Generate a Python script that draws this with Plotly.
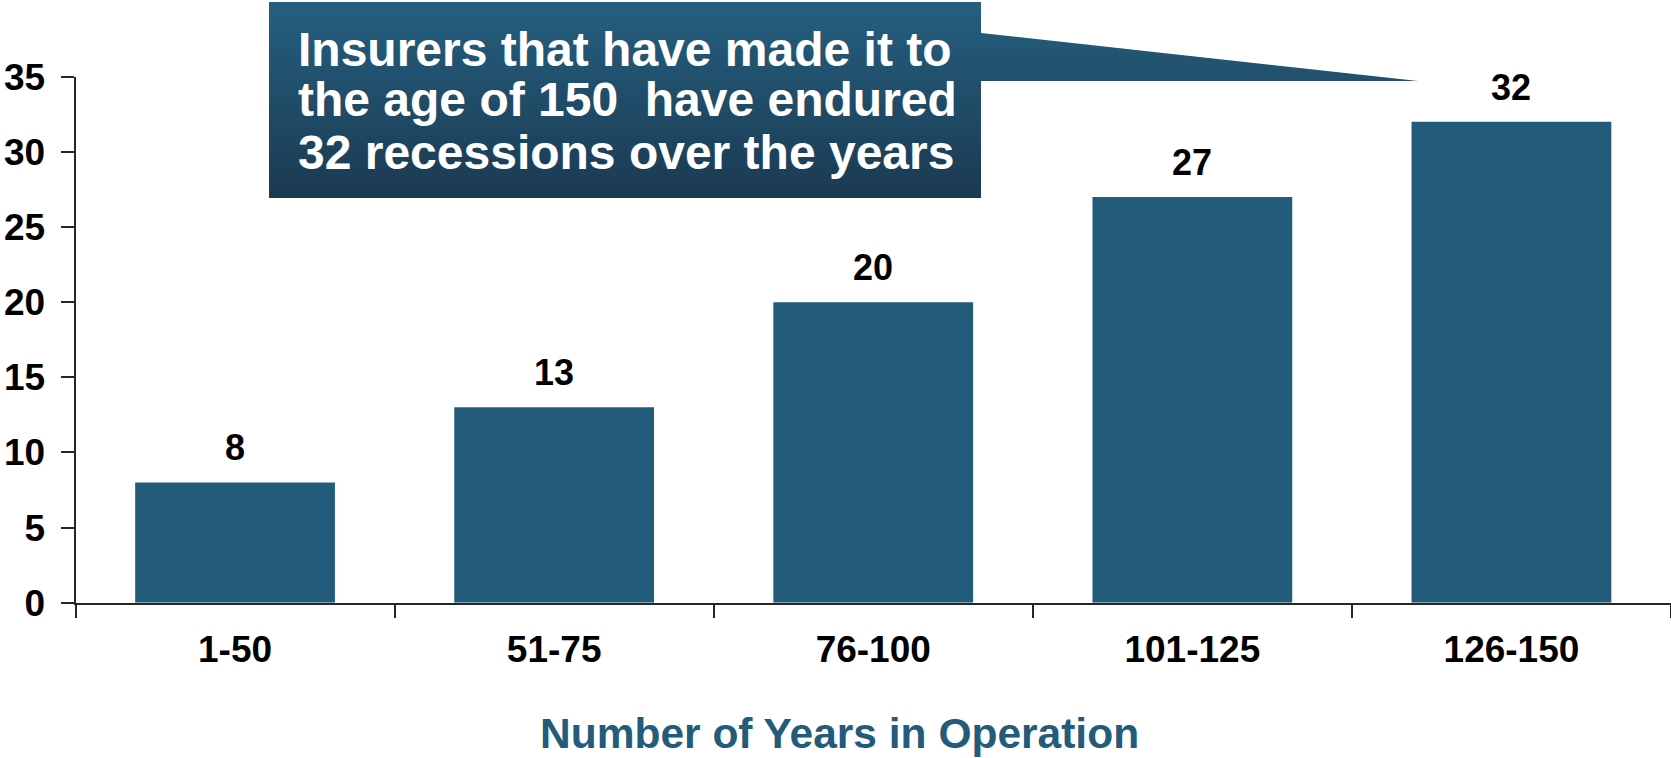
import plotly.graph_objects as go

# Recessions endured by insurers, grouped by how long they have operated
categories = ["1-50", "51-75", "76-100", "101-125", "126-150"]
recessions = [8, 13, 20, 27, 32]
y_ticks = [0, 5, 10, 15, 20, 25, 30, 35]

callout_lines = [
    "Insurers that have made it to",
    "the age of 150\u00a0 have endured",
    "32 recessions over the years",
]
x_title = "Number of Years in Operation"

W, H = 1671, 758
BAR_COLOR = "#235b7a"
AXIS_COLOR = "#262626"
FONT = "Liberation Sans, Arial, Helvetica, sans-serif"

# Plot area in pixels (the figure uses zero margins and explicit domains)
PX_LEFT, PX_RIGHT = 75.5, 1671.0
PX_TOP, PX_BOTTOM = 76.7, 602.7

fig = go.Figure()

fig.add_trace(go.Bar(
    x=categories,
    y=recessions,
    marker=dict(color=BAR_COLOR, line=dict(width=0)),
    hoverinfo="skip",
    xaxis="x",
    yaxis="y",
))

# Speech-bubble callout drawn on a full-canvas pixel overlay
bubble_x = [269, 981, 981, 1418, 981, 981, 269, 269]
bubble_y = [2, 2, 33, 81, 81, 198, 198, 2]
fig.add_trace(go.Scatter(
    x=bubble_x,
    y=bubble_y,
    xaxis="x2",
    yaxis="y2",
    mode="lines",
    line=dict(width=0, color="rgba(0,0,0,0)"),
    fill="toself",
    fillgradient=dict(
        type="vertical",
        colorscale=[[0, "#255f80"], [1, "#1b3a51"]],
        start=2,
        stop=198,
    ),
    hoverinfo="skip",
))

# Value labels above each bar
for cat, val in zip(categories, recessions):
    fig.add_annotation(
        x=cat, y=val, xref="x", yref="y",
        text=str(val), showarrow=False,
        xanchor="center", yanchor="bottom", yshift=12,
        font=dict(family=FONT, size=36, color="#000000", weight="bold"),
    )

# Callout text, one annotation per line for tight leading
for line, yc in zip(callout_lines, [49.8, 99.8, 152.2]):
    fig.add_annotation(
        x=296, y=yc, xref="x2", yref="y2",
        text=line, showarrow=False,
        xanchor="left", yanchor="middle",
        font=dict(family=FONT, size=48, color="#ffffff", weight="bold"),
    )

# Axis title
fig.add_annotation(
    x=839, y=733.7, xref="x2", yref="y2",
    text=x_title, showarrow=False,
    xanchor="center", yanchor="middle",
    font=dict(family=FONT, size=42.5, color=BAR_COLOR, weight="bold"),
)

fig.update_layout(
    width=W,
    height=H,
    margin=dict(l=0, r=0, t=0, b=0, pad=0, autoexpand=False),
    paper_bgcolor="#ffffff",
    plot_bgcolor="rgba(0,0,0,0)",
    showlegend=False,
    bargap=0.374,
    xaxis=dict(
        domain=[PX_LEFT / W, PX_RIGHT / W],
        type="category",
        range=[-0.5, 4.5],
        showline=True,
        linecolor=AXIS_COLOR,
        linewidth=2,
        ticks="outside",
        tickson="boundaries",
        ticklen=13,
        tickwidth=2,
        tickcolor=AXIS_COLOR,
        ticklabelstandoff=13,
        tickfont=dict(family=FONT, size=37, color="#000000", weight="bold"),
        showgrid=False,
        zeroline=False,
        anchor="y",
        automargin=False,
        fixedrange=True,
    ),
    yaxis=dict(
        domain=[(H - PX_BOTTOM) / H, (H - PX_TOP) / H],
        range=[0, 35],
        tickvals=y_ticks,
        showline=True,
        linecolor=AXIS_COLOR,
        linewidth=2,
        ticks="outside",
        ticklen=13,
        tickwidth=2,
        tickcolor=AXIS_COLOR,
        ticklabelstandoff=8,
        tickfont=dict(family=FONT, size=37, color="#000000", weight="bold"),
        showgrid=False,
        zeroline=False,
        anchor="x",
        automargin=False,
        fixedrange=True,
    ),
    xaxis2=dict(domain=[0, 1], range=[0, W], visible=False, anchor="y2", fixedrange=True),
    yaxis2=dict(domain=[0, 1], range=[H, 0], visible=False, anchor="x2", fixedrange=True),
)

fig.write_html("out.html", config={"displayModeBar": False})
